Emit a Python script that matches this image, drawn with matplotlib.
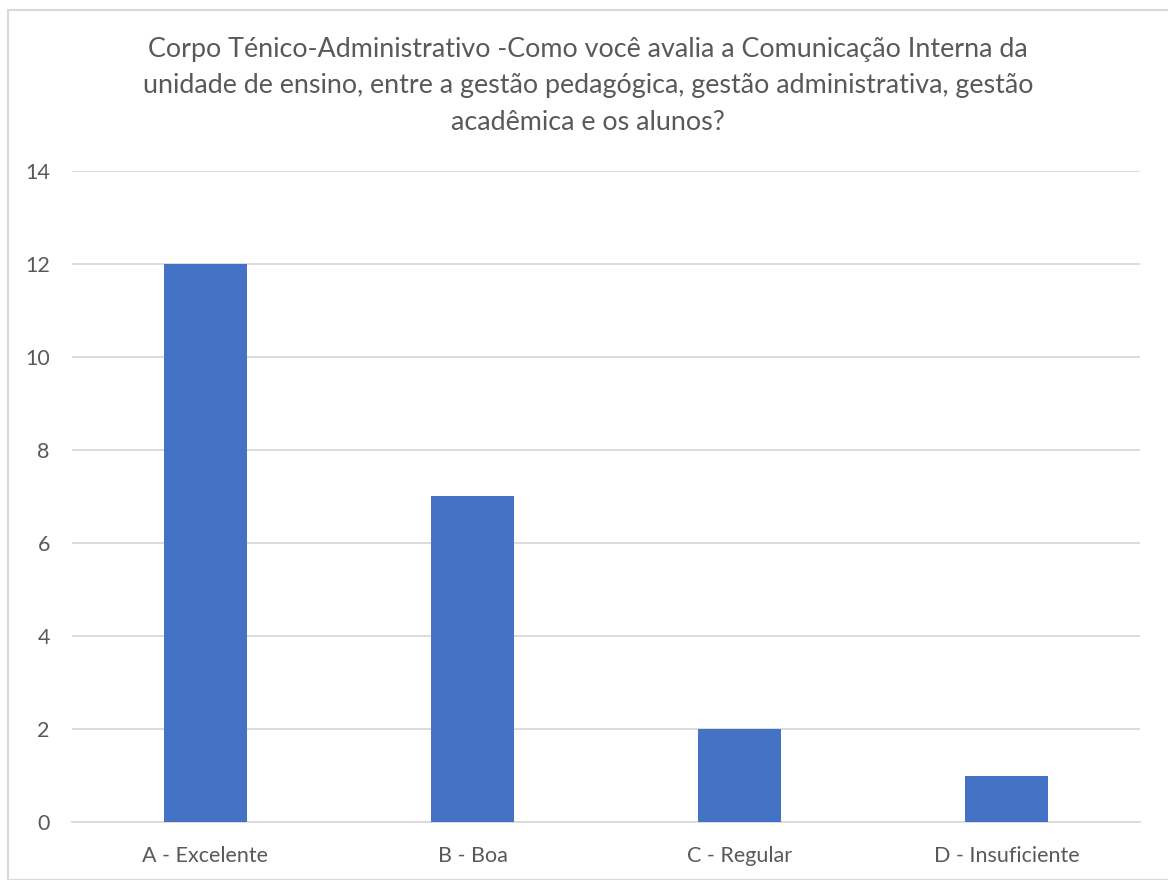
import matplotlib.pyplot as plt
from matplotlib.patches import Rectangle

# data
categories = ['A - Excelente', 'B - Boa', 'C - Regular', 'D - Insuficiente']
values = [12, 7, 2, 1]
title = ('Corpo Ténico-Administrativo -Como você avalia a Comunicação Interna da\n'
         'unidade de ensino, entre a gestão pedagógica, gestão administrativa, gestão\n'
         'acadêmica e os alunos?')

plt.rcParams['font.family'] = ['Lato', 'DejaVu Sans']
text_color = '#595959'

fig = plt.figure(figsize=(11.68, 8.8), dpi=100)
ax = fig.add_axes([72/1168, 1 - 822/880, 1068/1168, 651/880])

# chart border (like the office export)
fig.patches.append(Rectangle((8/1168, 0), 1.0, 1 - 10/880, transform=fig.transFigure,
                             fill=False, edgecolor='#D9D9D9', linewidth=1.5))

x = range(len(categories))
ax.bar(x, values, width=0.314, color='#4472C4', zorder=3)

ax.set_xlim(-0.5, len(categories) - 0.5)
ax.set_ylim(0, 14)
ax.set_yticks(range(0, 15, 2))
ax.set_xticks(list(x))
ax.set_xticklabels(categories)
ax.grid(axis='y', color='#D9D9D9', linewidth=1.3, zorder=0)
for s in ['top', 'right', 'left']:
    ax.spines[s].set_visible(False)
ax.spines['bottom'].set_color('#D9D9D9')
ax.spines['bottom'].set_linewidth(1.3)
ax.tick_params(length=0, labelsize=15.5, colors=text_color)
ax.tick_params(axis='y', pad=16)
ax.tick_params(axis='x', pad=17)

fig.text(588/1168, 1 - 86/880, title, ha='center', va='center', fontsize=19.4,
         color=text_color, linespacing=1.55)

fig.savefig('out.png', dpi=100)
